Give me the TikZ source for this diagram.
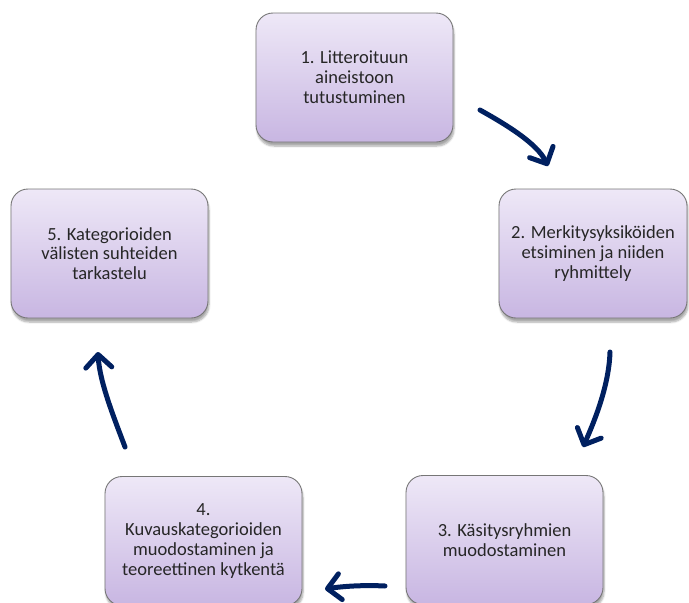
\documentclass[tikz,border=0pt]{standalone}
\usepackage{fontspec}
\setmainfont{Carlito}
\usetikzlibrary{arrows.meta,shadows.blur}
\definecolor{boxtop}{RGB}{238,232,247}
\definecolor{boxbot}{RGB}{200,182,226}
\definecolor{boxline}{RGB}{118,118,118}
\definecolor{navy}{RGB}{0,32,96}
\tikzset{
  stagebox/.style={rounded corners=17pt, draw=boxline, line width=0.9pt,
    top color=boxtop, bottom color=boxbot, minimum width=197pt, minimum height=129pt,
    align=center, font=\fontsize{18.5pt}{19.8pt}\selectfont, text=black!85,
    blur shadow={shadow xshift=1pt, shadow yshift=-4pt, shadow blur steps=6, shadow opacity=35}},
  cyclearrow/.style={draw=navy, line width=5pt, line cap=round,
    -{Straight Barb[length=13pt,width=26pt,line cap=round,line join=round]}}
}
\begin{document}
\begin{tikzpicture}[x=1pt,y=-1pt]
\useasboundingbox (0,0) rectangle (689,603);
\node[stagebox] (b1) at (354.5,77.5) {1. Litteroituun\\aineistoon\\tutustuminen};
\node[stagebox, minimum width=188pt] (b2) at (593,253.5) {2. Merkitysyksiköiden\\etsiminen ja niiden\\ryhmittely};
\node[stagebox] (b3) at (504.5,540) {3. Käsitysryhmien\\muodostaminen};
\node[stagebox] (b4) at (203.5,541) {4.\\Kuvauskategorioiden\\muodostaminen ja\\teoreettinen kytkentä};
\node[stagebox] (b5) at (109.5,253.5) {5. Kategorioiden\\välisten suhteiden\\tarkastelu};
\coordinate (a1s) at (480,110); \coordinate (a1e) at (548,166);
\coordinate (a2s) at (610,352); \coordinate (a2e) at (583,447);
\coordinate (a3s) at (385,586); \coordinate (a3e) at (325,589);
\coordinate (a4s) at (125,447); \coordinate (a4e) at (98,352);
\draw[cyclearrow] (a1s) .. controls (505,124) and (537,143) .. (a1e);
\draw[cyclearrow] (a2s) .. controls (609,385) and (595,420) .. (a2e);
\draw[cyclearrow] (a3s) .. controls (365,585) and (345,586) .. (a3e);
\draw[cyclearrow] (a4s) .. controls (114.5,419) and (99.5,382) .. (a4e);
\end{tikzpicture}
\end{document}
